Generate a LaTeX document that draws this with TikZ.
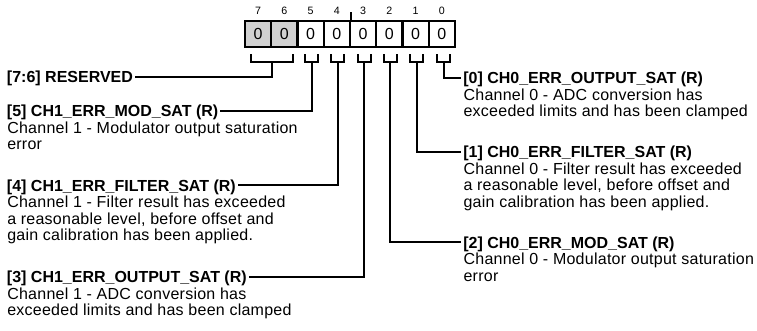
\documentclass[tikz,border=0pt]{standalone}
\usepackage{fontspec}
\setmainfont{Liberation Sans}
\newfontfamily\dscfont[LetterSpace=1.6]{Liberation Sans}
\usetikzlibrary{positioning}
\begin{document}
\begin{tikzpicture}[x=0.75pt, y=-0.75pt,
          bit/.style={draw, line width=1.6pt, minimum width=19.7pt, minimum height=19.3pt, inner sep=0pt, font=\fontsize{12}{12.45}\selectfont},
          rsv/.style={bit, fill=black!18},
          num/.style={font=\fontsize{8}{8}\selectfont, inner sep=0pt},
          ttl/.style={font=\fontsize{12}{12.45}\selectfont\bfseries, anchor=base west, inner sep=0pt, outer sep=1.5pt, text depth=0pt},
          dsc/.style={font=\dscfont\fontsize{12}{12.45}\selectfont, align=left, anchor=north west, inner sep=0pt},
          brk/.style={line width=1.6pt},
          rel/.style={line width=1.6pt}]
        \useasboundingbox (0,0) rectangle (757,330);
        % register bits
        \node[rsv] (b7) at (258.1,34) {0};
        \node[rsv] (b6) at (284.4,34) {0};
        \node[bit] (b5) at (310.6,34) {0};
        \node[bit] (b4) at (336.9,34) {0};
        \node[bit] (b3) at (363.1,34) {0};
        \node[bit] (b2) at (389.4,34) {0};
        \node[bit] (b1) at (415.6,34) {0};
        \node[bit] (b0) at (441.9,34) {0};
        \node[num] (n7) at (258.1,10.7) {7};
        \node[num] (n6) at (284.4,10.7) {6};
        \node[num] (n5) at (310.6,10.7) {5};
        \node[num] (n4) at (336.9,10.7) {4};
        \node[num] (n3) at (363.1,10.7) {3};
        \node[num] (n2) at (389.4,10.7) {2};
        \node[num] (n1) at (415.6,10.7) {1};
        \node[num] (n0) at (441.9,10.7) {0};
        \draw[line width=1pt] (b4.north east) -- ++(0,-8);
        % brackets
        \coordinate (k76) at (272,61.7);
        \coordinate (k5) at (311.6,61.7);
        \coordinate (k4) at (337.9,61.7);
        \coordinate (k3) at (364.1,61.7);
        \coordinate (k2) at (390.4,61.7);
        \coordinate (k1) at (416.6,61.7);
        \coordinate (k0) at (443.9,61.7);
        \draw[brk] (k76) ++(-21,-7.7) |- ++(42,7.7) -- ++(0,-7.7);
        \draw[brk] (k5) ++(-6.5,-7.7) |- ++(13,7.7) -- ++(0,-7.7);
        \draw[brk] (k4) ++(-6.5,-7.7) |- ++(13,7.7) -- ++(0,-7.7);
        \draw[brk] (k3) ++(-6.5,-7.7) |- ++(13,7.7) -- ++(0,-7.7);
        \draw[brk] (k2) ++(-6.5,-7.7) |- ++(13,7.7) -- ++(0,-7.7);
        \draw[brk] (k1) ++(-6.5,-7.7) |- ++(13,7.7) -- ++(0,-7.7);
        \draw[brk] (k0) ++(-6.5,-7.7) |- ++(13,7.7) -- ++(0,-7.7);
        % left fields
        \node[ttl] (t76) at (5,82.5) {[7:6] RESERVED};
        \node[ttl] (t5) at (5,116.5) {[5] CH1\_ERR\_MOD\_SAT (R)};
        \node[dsc] (d5) at (7,121.4) {Channel 1 - Modulator output saturation\\error};
        \node[ttl] (t4) at (5,191) {[4] CH1\_ERR\_FILTER\_SAT (R)};
        \node[dsc] (d4) at (7,195.9) {Channel 1 - Filter result has exceeded\\a reasonable level, before offset and\\gain calibration has been applied.};
        \node[ttl] (t3) at (5,282.5) {[3] CH1\_ERR\_OUTPUT\_SAT (R)};
        \node[dsc] (d3) at (7,287.4) {Channel 1 - ADC conversion has\\exceeded limits and has been clamped};
        % right fields
        \node[ttl] (t0) at (461.3,83.5) {[0] CH0\_ERR\_OUTPUT\_SAT (R)};
        \node[dsc] (d0) at (463.3,88.4) {Channel 0 - ADC conversion has\\exceeded limits and has been clamped};
        \node[ttl] (t1) at (461.3,157.5) {[1] CH0\_ERR\_FILTER\_SAT (R)};
        \node[dsc] (d1) at (463.3,162.4) {Channel 0 - Filter result has exceeded\\a reasonable level, before offset and\\gain calibration has been applied.};
        \node[ttl] (t2) at (461.3,248) {[2] CH0\_ERR\_MOD\_SAT (R)};
        \node[dsc] (d2) at (463.3,252.9) {Channel 0 - Modulator output saturation\\error};
        % connectors
        \draw[rel] (k76) |- (t76.east);
        \draw[rel] (k5) |- (t5.east);
        \draw[rel] (k4) |- (t4.east);
        \draw[rel] (k3) |- (t3.east);
        \draw[rel] (k2) |- (t2.west);
        \draw[rel] (k1) |- (t1.west);
        \draw[rel] (k0) |- (t0.west);
      \end{tikzpicture}
\end{document}
